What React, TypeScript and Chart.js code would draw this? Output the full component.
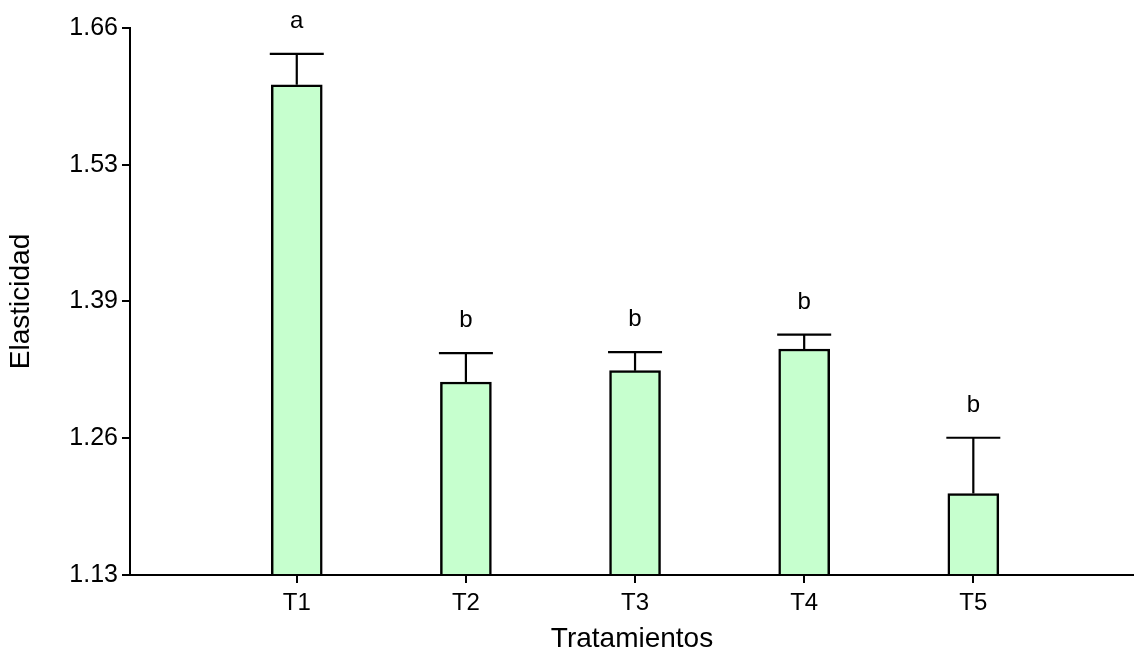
import React, { useEffect, useRef } from "react";
import { Chart, registerables } from "chart.js";

Chart.register(...registerables);

const CATEGORIES = ["T1", "T2", "T3", "T4", "T5"];
const MEANS = [1.605, 1.317, 1.328, 1.349, 1.209];
const ERRORS = [0.030, 0.028, 0.018, 0.014, 0.054];
const LETTERS = ["a", "b", "b", "b", "b"];
const Y_TICK_LABELS = ["1.13", "1.26", "1.39", "1.53", "1.66"];
const Y_MIN = 1.13;
const Y_MAX = 1.66;
const X_MIN = 0.014;
const X_MAX = 5.95;

const FONT = '"Liberation Sans", Arial, sans-serif';

const errorPlugin = {
  id: "errorBarsLetters",
  afterDatasetsDraw(chart: any) {
    const ctx = chart.ctx;
    const xs = chart.scales.x;
    const ys = chart.scales.y;
    ctx.save();
    ctx.strokeStyle = "#000";
    ctx.lineWidth = 2.2;
    ctx.fillStyle = "#000";
    ctx.font = `24px ${FONT}`;
    ctx.textAlign = "center";
    ctx.textBaseline = "alphabetic";
    MEANS.forEach((m, i) => {
      const x = xs.getPixelForValue(i + 1);
      const y0 = ys.getPixelForValue(m);
      const y1 = ys.getPixelForValue(m + ERRORS[i]);
      ctx.beginPath();
      ctx.moveTo(x, y0);
      ctx.lineTo(x, y1);
      ctx.moveTo(x - 27, y1);
      ctx.lineTo(x + 27, y1);
      ctx.stroke();
      ctx.fillText(LETTERS[i], x, y1 - 26);
    });
    ctx.restore();
  },
};

export default function App() {
  const ref = useRef<HTMLCanvasElement>(null);
  useEffect(() => {
    if (!ref.current) return;
    Chart.defaults.color = "#000";
    Chart.defaults.font.family = FONT;
    const chart = new Chart(ref.current, {
      type: "bar",
      data: {
        datasets: [
          {
            data: MEANS.map((v, i) => ({ x: i + 1, y: v })),
            backgroundColor: "rgb(198,255,206)",
            borderColor: "#000",
            borderWidth: 2.5,
            borderSkipped: "bottom",
            barThickness: 51,
            base: Y_MIN,
          } as any,
        ],
      },
      plugins: [errorPlugin],
      options: {
        responsive: false,
        animation: false,
        layout: { padding: { top: 28, right: 0, left: 0, bottom: 0 } },
        plugins: { legend: { display: false }, tooltip: { enabled: false } },
        scales: {
          x: {
            type: "linear",
            min: X_MIN,
            max: X_MAX,
            offset: false,
            afterBuildTicks: (scale: any) => {
              scale.ticks = CATEGORIES.map((_, i) => ({ value: i + 1 }));
            },
            afterFit: (scale: any) => {
              scale.height = 81;
            },
            ticks: {
              callback: (_v: any, i: number) => CATEGORIES[i],
              font: { size: 24, family: FONT },
              color: "#000",
              padding: 6,
              maxRotation: 0,
            },
            grid: {
              display: true,
              offset: false,
              drawOnChartArea: false,
              drawTicks: true,
              tickLength: 8,
              color: "#000",
              lineWidth: 2,
            },
            border: { display: true, color: "#000", width: 2 },
            title: {
              display: true,
              text: "Tratamientos",
              font: { size: 28, family: FONT },
              color: "#000",
              padding: { top: 0, bottom: 0 },
            },
          },
          y: {
            type: "linear",
            min: Y_MIN,
            max: Y_MAX,
            afterBuildTicks: (scale: any) => {
              scale.ticks = Y_TICK_LABELS.map((_, i) => ({
                value: Y_MIN + (i * (Y_MAX - Y_MIN)) / (Y_TICK_LABELS.length - 1),
              }));
            },
            afterFit: (scale: any) => {
              scale.width = 130;
            },
            ticks: {
              callback: (_v: any, i: number) => Y_TICK_LABELS[i],
              font: { size: 25, family: FONT },
              color: "#000",
              padding: 4,
            },
            grid: {
              display: true,
              drawOnChartArea: false,
              drawTicks: true,
              tickLength: 8,
              color: "#000",
              lineWidth: 2,
            },
            border: { display: true, color: "#000", width: 2 },
            title: {
              display: true,
              text: "Elasticidad",
              font: { size: 28, family: FONT },
              color: "#000",
              padding: { top: 4, bottom: 0 },
            },
          },
        },
      },
    });
    return () => chart.destroy();
  }, []);
  return (
    <div style={{ position: "fixed", left: 0, top: 0, width: 1134, height: 656, background: "#fff" }}>
      <canvas ref={ref} width={1134} height={656} />
    </div>
  );
}
